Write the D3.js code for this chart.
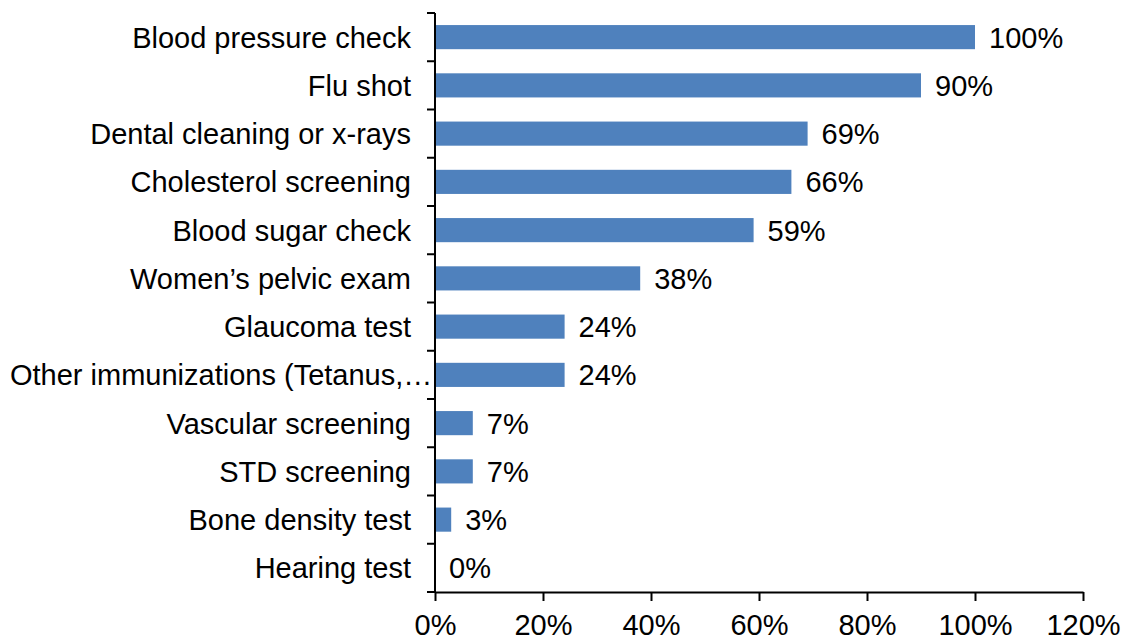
<!DOCTYPE html>
<html>
<head>
<meta charset="utf-8">
<script src="https://cdn.jsdelivr.net/npm/d3@7"></script>
<style>
  html, body { margin: 0; padding: 0; background: #fff; }
  svg text { font-family: "Liberation Sans", Arial, sans-serif; fill: #000; }
</style>
</head>
<body>
<svg id="chart" width="1129" height="642"></svg>
<script>
// Preventive services received, share of respondents
const categories = [
  "Blood pressure check",
  "Flu shot",
  "Dental cleaning or x-rays",
  "Cholesterol screening",
  "Blood sugar check",
  "Women\u2019s pelvic exam",
  "Glaucoma test",
  "Other immunizations (Tetanus,\u2026",
  "Vascular screening",
  "STD screening",
  "Bone density test",
  "Hearing test"
];
const values = [100, 90, 69, 66, 59, 38, 24, 24, 7, 7, 3, 0];
const xTicks = [0, 20, 40, 60, 80, 100, 120];

const svg = d3.select("#chart");
const plotLeft = 435, plotRight = 1083, plotTop = 13, plotBottom = 592;
const fontSize = 29;
const labelRight = 411, labelMinLeft = 10;

const x = d3.scaleLinear().domain([0, 120]).range([plotLeft, plotRight]);
const y = d3.scaleBand().domain(categories).range([plotTop, plotBottom])
  .paddingInner(0.5).paddingOuter(0.25);

// Bars
svg.append("g").selectAll("rect")
  .data(values)
  .join("rect")
  .attr("x", x(0))
  .attr("y", (d, i) => y(categories[i]))
  .attr("width", d => x(d) - x(0))
  .attr("height", y.bandwidth())
  .attr("fill", "#4F81BD");

// Value labels
svg.append("g").selectAll("text")
  .data(values)
  .join("text")
  .attr("x", d => x(d) + 14)
  .attr("y", (d, i) => y(categories[i]) + y.bandwidth() / 2)
  .attr("dy", "0.36em")
  .attr("font-size", fontSize)
  .text(d => d + "%");

// Category axis: line, boundary ticks, labels
const cat = svg.append("g");
cat.append("line")
  .attr("x1", plotLeft).attr("x2", plotLeft)
  .attr("y1", plotTop).attr("y2", plotBottom)
  .attr("stroke", "#000").attr("stroke-width", 2);
const step = y.step();
const boundaries = d3.range(categories.length + 1).map(i => plotTop + i * step);
cat.selectAll("line.tick")
  .data(boundaries)
  .join("line")
  .attr("class", "tick")
  .attr("x1", plotLeft - 8).attr("x2", plotLeft)
  .attr("y1", d => d).attr("y2", d => d)
  .attr("stroke", "#000").attr("stroke-width", 2);
cat.selectAll("text")
  .data(categories)
  .join("text")
  .attr("x", labelRight)
  .attr("y", d => y(d) + y.bandwidth() / 2)
  .attr("dy", "0.36em")
  .attr("text-anchor", "end")
  .attr("font-size", fontSize)
  .text(d => d)
  .each(function () {
    // a truncated label that is too long starts at the left margin instead
    const w = this.getComputedTextLength();
    if (labelRight - w < labelMinLeft) {
      d3.select(this).attr("text-anchor", "start").attr("x", labelMinLeft);
    }
  });

// Value axis
const xAxis = d3.axisBottom(x)
  .tickValues(xTicks)
  .tickFormat(d => d + "%")
  .tickSize(9)
  .tickSizeOuter(0)
  .tickPadding(13);
const gx = svg.append("g")
  .attr("transform", `translate(0,${plotBottom})`)
  .call(xAxis);
gx.select(".domain").attr("stroke", "#000").attr("stroke-width", 2);
gx.selectAll(".tick line").attr("stroke", "#000").attr("stroke-width", 2);
gx.selectAll(".tick text")
  .attr("font-size", fontSize)
  .attr("font-family", "Liberation Sans, Arial, sans-serif")
  .attr("fill", "#000");
</script>
</body>
</html>
